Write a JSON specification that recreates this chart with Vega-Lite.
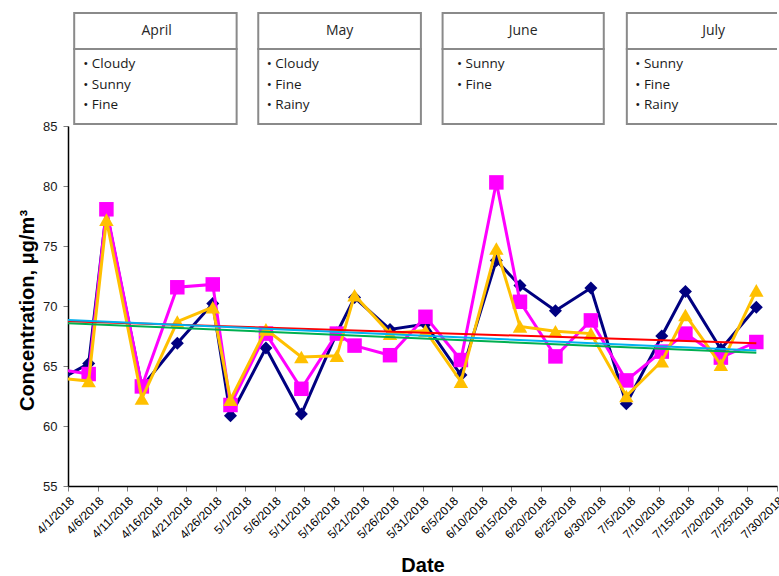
{
  "$schema": "https://vega.github.io/schema/vega-lite/v6.json",
  "padding": {"left": 17, "top": 0, "right": 0, "bottom": 0},
  "spacing": 0,
  "bounds": "flush",
  "background": "white",
  "config": {"view": {"stroke": null}, "font": "Liberation Sans"},
  "datasets": {
    "boxes": [
      {"month": "April", "start": "2018-04-02T01:10", "end": "2018-04-29T13:00"},
      {"month": "May", "start": "2018-05-03T04:50", "end": "2018-05-30T17:30"},
      {"month": "June", "start": "2018-06-03T09:35", "end": "2018-06-30T16:20"},
      {"month": "July", "start": "2018-07-04T14:00", "end": "2018-08-05T00:00"}
    ],
    "headers": [
      {"month": "April", "center": "2018-04-16T00:00"},
      {"month": "May", "center": "2018-05-16T23:20"},
      {"month": "June", "center": "2018-06-17T00:45"},
      {"month": "July", "center": "2018-07-19T06:30"}
    ],
    "bullets": [
      {"month": "April", "left": "2018-04-03T14:00", "row": 1, "text": "• Cloudy"},
      {"month": "April", "left": "2018-04-03T14:00", "row": 2, "text": "• Sunny"},
      {"month": "April", "left": "2018-04-03T14:00", "row": 3, "text": "• Fine"},
      {"month": "May", "left": "2018-05-04T15:25", "row": 1, "text": "• Cloudy"},
      {"month": "May", "left": "2018-05-04T15:25", "row": 2, "text": "• Fine"},
      {"month": "May", "left": "2018-05-04T15:25", "row": 3, "text": "• Rainy"},
      {"month": "June", "left": "2018-06-05T20:00", "row": 1, "text": "• Sunny"},
      {"month": "June", "left": "2018-06-05T20:00", "row": 2, "text": "• Fine"},
      {"month": "July", "left": "2018-07-06T00:30", "row": 1, "text": "• Sunny"},
      {"month": "July", "left": "2018-07-06T00:30", "row": 2, "text": "• Fine"},
      {"month": "July", "left": "2018-07-06T00:30", "row": 3, "text": "• Rainy"}
    ],
    "obs": [
      {"date": "2018-03-29T12:00", "series": "A", "value": 63.57},
      {"date": "2018-04-04T12:00", "series": "A", "value": 65.2},
      {"date": "2018-04-07T12:00", "series": "A", "value": 77.9},
      {"date": "2018-04-13T12:00", "series": "A", "value": 63.25},
      {"date": "2018-04-19T12:00", "series": "A", "value": 66.9},
      {"date": "2018-04-25T12:00", "series": "A", "value": 70.2},
      {"date": "2018-04-28T12:00", "series": "A", "value": 60.85},
      {"date": "2018-05-04T12:00", "series": "A", "value": 66.5},
      {"date": "2018-05-10T12:00", "series": "A", "value": 61.0},
      {"date": "2018-05-16T12:00", "series": "A", "value": 67.75},
      {"date": "2018-05-19T12:00", "series": "A", "value": 70.7},
      {"date": "2018-05-25T12:00", "series": "A", "value": 68.05},
      {"date": "2018-05-31T12:00", "series": "A", "value": 68.5},
      {"date": "2018-06-06T12:00", "series": "A", "value": 64.25},
      {"date": "2018-06-12T12:00", "series": "A", "value": 73.8},
      {"date": "2018-06-16T12:00", "series": "A", "value": 71.7},
      {"date": "2018-06-22T12:00", "series": "A", "value": 69.6},
      {"date": "2018-06-28T12:00", "series": "A", "value": 71.5},
      {"date": "2018-07-04T12:00", "series": "A", "value": 61.85},
      {"date": "2018-07-10T12:00", "series": "A", "value": 67.5},
      {"date": "2018-07-14T12:00", "series": "A", "value": 71.2},
      {"date": "2018-07-20T12:00", "series": "A", "value": 66.4},
      {"date": "2018-07-26T12:00", "series": "A", "value": 69.9},
      {"date": "2018-03-29T12:00", "series": "B", "value": 64.79},
      {"date": "2018-04-04T12:00", "series": "B", "value": 64.33},
      {"date": "2018-04-07T12:00", "series": "B", "value": 78.06},
      {"date": "2018-04-13T12:00", "series": "B", "value": 63.3},
      {"date": "2018-04-19T12:00", "series": "B", "value": 71.56},
      {"date": "2018-04-25T12:00", "series": "B", "value": 71.8},
      {"date": "2018-04-28T12:00", "series": "B", "value": 61.75},
      {"date": "2018-05-04T12:00", "series": "B", "value": 67.7},
      {"date": "2018-05-10T12:00", "series": "B", "value": 63.1},
      {"date": "2018-05-16T12:00", "series": "B", "value": 67.7},
      {"date": "2018-05-19T12:00", "series": "B", "value": 66.7},
      {"date": "2018-05-25T12:00", "series": "B", "value": 65.9},
      {"date": "2018-05-31T12:00", "series": "B", "value": 69.1},
      {"date": "2018-06-06T12:00", "series": "B", "value": 65.5},
      {"date": "2018-06-12T12:00", "series": "B", "value": 80.3},
      {"date": "2018-06-16T12:00", "series": "B", "value": 70.35},
      {"date": "2018-06-22T12:00", "series": "B", "value": 65.8},
      {"date": "2018-06-28T12:00", "series": "B", "value": 68.8},
      {"date": "2018-07-04T12:00", "series": "B", "value": 63.8},
      {"date": "2018-07-10T12:00", "series": "B", "value": 66.2},
      {"date": "2018-07-14T12:00", "series": "B", "value": 67.7},
      {"date": "2018-07-20T12:00", "series": "B", "value": 65.7},
      {"date": "2018-07-26T12:00", "series": "B", "value": 67.0},
      {"date": "2018-03-29T12:00", "series": "C", "value": 64.04},
      {"date": "2018-04-04T12:00", "series": "C", "value": 63.75},
      {"date": "2018-04-07T12:00", "series": "C", "value": 77.2},
      {"date": "2018-04-13T12:00", "series": "C", "value": 62.3},
      {"date": "2018-04-19T12:00", "series": "C", "value": 68.7},
      {"date": "2018-04-25T12:00", "series": "C", "value": 69.9},
      {"date": "2018-04-28T12:00", "series": "C", "value": 62.2},
      {"date": "2018-05-04T12:00", "series": "C", "value": 68.05},
      {"date": "2018-05-10T12:00", "series": "C", "value": 65.75},
      {"date": "2018-05-16T12:00", "series": "C", "value": 65.85},
      {"date": "2018-05-19T12:00", "series": "C", "value": 70.9},
      {"date": "2018-05-25T12:00", "series": "C", "value": 67.7},
      {"date": "2018-05-31T12:00", "series": "C", "value": 67.95},
      {"date": "2018-06-06T12:00", "series": "C", "value": 63.7},
      {"date": "2018-06-12T12:00", "series": "C", "value": 74.8},
      {"date": "2018-06-16T12:00", "series": "C", "value": 68.3},
      {"date": "2018-06-22T12:00", "series": "C", "value": 67.9},
      {"date": "2018-06-28T12:00", "series": "C", "value": 67.7},
      {"date": "2018-07-04T12:00", "series": "C", "value": 62.5},
      {"date": "2018-07-10T12:00", "series": "C", "value": 65.4},
      {"date": "2018-07-14T12:00", "series": "C", "value": 69.25},
      {"date": "2018-07-20T12:00", "series": "C", "value": 65.1},
      {"date": "2018-07-26T12:00", "series": "C", "value": 71.3}
    ],
    "trend": [
      {"date": "2018-03-29T12:00", "trend": "T1", "value": 68.76},
      {"date": "2018-07-26T12:00", "trend": "T1", "value": 66.9},
      {"date": "2018-03-29T12:00", "trend": "T2", "value": 68.88},
      {"date": "2018-07-26T12:00", "trend": "T2", "value": 66.3},
      {"date": "2018-03-29T12:00", "trend": "T3", "value": 68.61},
      {"date": "2018-07-26T12:00", "trend": "T3", "value": 66.1}
    ]
  },
  "vconcat": [
    {
      "width": 709,
      "height": 126,
      "encoding": {
        "x": {"type": "temporal", "scale": {"domain": [{"year": 2018, "month": 4, "date": 1}, {"year": 2018, "month": 7, "date": 30}]}, "axis": null},
        "y": {"type": "quantitative", "scale": {"domain": [0, 126], "reverse": true}, "axis": null}
      },
      "layer": [
        {
          "data": {"name": "boxes"},
          "mark": {"type": "rect", "fill": "white", "stroke": "#8a8a8a", "strokeWidth": 2, "clip": true},
          "encoding": {
            "x": {"field": "start", "type": "temporal"},
            "x2": {"field": "end"},
            "y": {"datum": 13, "type": "quantitative"},
            "y2": {"datum": 49}
          }
        },
        {
          "data": {"name": "boxes"},
          "mark": {"type": "rect", "fill": "white", "stroke": "#8a8a8a", "strokeWidth": 2, "clip": true},
          "encoding": {
            "x": {"field": "start", "type": "temporal"},
            "x2": {"field": "end"},
            "y": {"datum": 49, "type": "quantitative"},
            "y2": {"datum": 124}
          }
        },
        {
          "data": {"name": "headers"},
          "mark": {"type": "text", "font": "Open Sans", "fontSize": 14, "color": "#262626", "align": "center", "baseline": "middle"},
          "encoding": {
            "x": {"field": "center", "type": "temporal"},
            "y": {"datum": 31, "type": "quantitative"},
            "text": {"field": "month"}
          }
        },
        {
          "data": {"name": "bullets"},
          "transform": [{"filter": "datum.row == 1"}],
          "mark": {"type": "text", "font": "Open Sans", "fontSize": 13.5, "color": "#1a1a1a", "align": "left", "baseline": "middle"},
          "encoding": {
            "x": {"field": "left", "type": "temporal"},
            "y": {"datum": 64, "type": "quantitative"},
            "text": {"field": "text"}
          }
        },
        {
          "data": {"name": "bullets"},
          "transform": [{"filter": "datum.row == 2"}],
          "mark": {"type": "text", "font": "Open Sans", "fontSize": 13.5, "color": "#1a1a1a", "align": "left", "baseline": "middle"},
          "encoding": {
            "x": {"field": "left", "type": "temporal"},
            "y": {"datum": 84.5, "type": "quantitative"},
            "text": {"field": "text"}
          }
        },
        {
          "data": {"name": "bullets"},
          "transform": [{"filter": "datum.row == 3"}],
          "mark": {"type": "text", "font": "Open Sans", "fontSize": 13.5, "color": "#1a1a1a", "align": "left", "baseline": "middle"},
          "encoding": {
            "x": {"field": "left", "type": "temporal"},
            "y": {"datum": 105, "type": "quantitative"},
            "text": {"field": "text"}
          }
        }
      ]
    },
    {
      "width": 709,
      "height": 360,
      "data": {"name": "obs"},
      "encoding": {
        "x": {
          "field": "date", "type": "temporal",
          "scale": {"domain": [{"year": 2018, "month": 4, "date": 1}, {"year": 2018, "month": 7, "date": 30}]},
          "axis": {
            "values": [
              {"year": 2018, "month": 4, "date": 1}, {"year": 2018, "month": 4, "date": 6}, {"year": 2018, "month": 4, "date": 11},
              {"year": 2018, "month": 4, "date": 16}, {"year": 2018, "month": 4, "date": 21}, {"year": 2018, "month": 4, "date": 26},
              {"year": 2018, "month": 5, "date": 1}, {"year": 2018, "month": 5, "date": 6}, {"year": 2018, "month": 5, "date": 11},
              {"year": 2018, "month": 5, "date": 16}, {"year": 2018, "month": 5, "date": 21}, {"year": 2018, "month": 5, "date": 26},
              {"year": 2018, "month": 5, "date": 31}, {"year": 2018, "month": 6, "date": 5}, {"year": 2018, "month": 6, "date": 10},
              {"year": 2018, "month": 6, "date": 15}, {"year": 2018, "month": 6, "date": 20}, {"year": 2018, "month": 6, "date": 25},
              {"year": 2018, "month": 6, "date": 30}, {"year": 2018, "month": 7, "date": 5}, {"year": 2018, "month": 7, "date": 10},
              {"year": 2018, "month": 7, "date": 15}, {"year": 2018, "month": 7, "date": 20}, {"year": 2018, "month": 7, "date": 25},
              {"year": 2018, "month": 7, "date": 30}
            ],
            "format": "%-m/%-d/%Y",
            "labelAngle": -45,
            "labelFont": "Liberation Sans",
            "labelFontSize": 12,
            "labelColor": "#000000",
            "labelOverlap": false,
            "labelBound": false,
            "labelPadding": 4,
            "grid": false,
            "domainColor": "#000000",
            "domainWidth": 1.5,
            "tickColor": "#808080",
            "tickSize": 5,
            "title": "Date",
            "titleFont": "Liberation Sans",
            "titleFontSize": 20,
            "titleFontWeight": "bold",
            "titleColor": "#000000",
            "titlePadding": 15
          }
        },
        "y": {
          "field": "value", "type": "quantitative",
          "scale": {"domain": [55, 85], "nice": false, "zero": false},
          "axis": {
            "values": [55, 60, 65, 70, 75, 80, 85],
            "grid": false,
            "domainColor": "#000000",
            "domainWidth": 1.5,
            "tickColor": "#808080",
            "tickSize": 5,
            "labelPadding": 6,
            "labelFont": "Liberation Sans",
            "labelFontSize": 13,
            "labelColor": "#1a1a1a",
            "title": "Concentration, μg/m³",
            "titleFont": "Liberation Sans",
            "titleFontSize": 20,
            "titleFontWeight": "bold",
            "titleColor": "#000000",
            "titlePadding": 5,
            "titleY": 184
          }
        }
      },
      "layer": [
        {"transform": [{"filter": "datum.series == 'A'"}], "mark": {"type": "line", "color": "#000080", "strokeWidth": 3, "clip": true}},
        {"transform": [{"filter": "datum.series == 'A'"}], "mark": {"type": "point", "shape": "diamond", "filled": true, "opacity": 1, "color": "#000080", "size": 170, "clip": true}},
        {"transform": [{"filter": "datum.series == 'B'"}], "mark": {"type": "line", "color": "#FF00FF", "strokeWidth": 3, "clip": true}},
        {"transform": [{"filter": "datum.series == 'B'"}], "mark": {"type": "point", "shape": "square", "filled": true, "opacity": 1, "color": "#FF00FF", "size": 210, "clip": true}},
        {"transform": [{"filter": "datum.series == 'C'"}], "mark": {"type": "line", "color": "#FFC000", "strokeWidth": 3, "clip": true}},
        {"transform": [{"filter": "datum.series == 'C'"}], "mark": {"type": "point", "shape": "triangle-up", "filled": true, "opacity": 1, "color": "#FFC000", "size": 210, "clip": true}},
        {
          "data": {"name": "trend"},
          "mark": {"type": "line", "strokeWidth": 2, "clip": true},
          "encoding": {
            "color": {"field": "trend", "type": "nominal", "scale": {"domain": ["T1", "T2", "T3"], "range": ["#FF0000", "#00B0F0", "#00B050"]}, "legend": null}
          }
        }
      ]
    }
  ]
}
